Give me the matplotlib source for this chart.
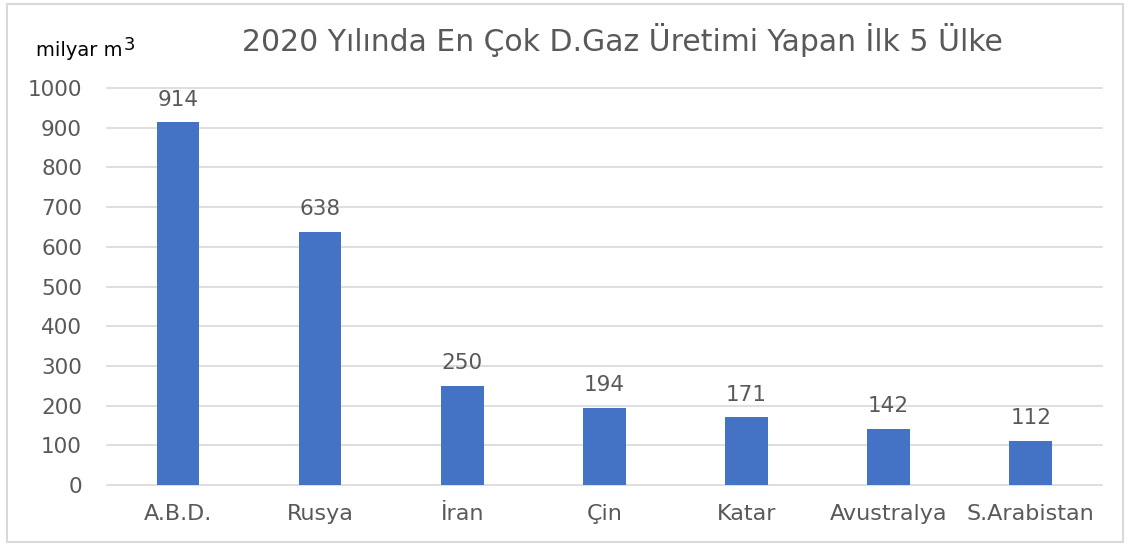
import matplotlib
matplotlib.use("Agg")
import matplotlib.pyplot as plt
from matplotlib.patches import Rectangle

categories = ["A.B.D.", "Rusya", "İran", "Çin", "Katar", "Avustralya", "S.Arabistan"]
values = [914, 638, 250, 194, 171, 142, 112]
yticks = [0, 100, 200, 300, 400, 500, 600, 700, 800, 900, 1000]
title = "2020 Yılında En Çok D.Gaz Üretimi Yapan İlk 5 Ülke"
unit_label = "milyar m"
unit_sup = "3"

plt.rcParams['font.family'] = ['DejaVu Sans']
txt = '#595959'

fig = plt.figure(figsize=(11.3, 5.46), dpi=100)
fig.patches.append(Rectangle((0.006, 0.008), 0.988, 0.984, transform=fig.transFigure,
                             fill=False, edgecolor='#d9d9d9', linewidth=1.5))
ax = fig.add_axes([0.0947, 0.1117, 0.8803, 0.7271])
x = range(len(categories))
bars = ax.bar(x, values, width=0.3, color='#4472c4', zorder=3)
for xi, v in zip(x, values):
    ax.annotate(str(v), (xi, v), xytext=(0, 9), textcoords='offset points',
                ha='center', va='bottom', fontsize=15.5, color=txt)
ax.set_xlim(-0.5, len(categories) - 0.5)
ax.set_ylim(0, 1000)
ax.set_yticks(yticks)
ax.set_yticklabels([str(t) for t in yticks], fontsize=15.5, color=txt)
ax.set_xticks(list(x))
ax.set_xticklabels(categories, fontsize=16, color=txt)
ax.tick_params(axis='both', length=0)
ax.tick_params(axis='y', pad=18)
ax.tick_params(axis='x', pad=14)
ax.grid(axis='y', color='#d9d9d9', linewidth=1.2, zorder=0)
for gl in ax.get_ygridlines():
    gl.set_clip_on(False)
for s in ax.spines.values():
    s.set_visible(False)
fig.text(0.5504, 0.927, title, ha='center', va='center', fontsize=21.5, color=txt)
t = fig.text(0.032, 0.908, unit_label, ha='left', va='center', fontsize=14, color='black')
fig.canvas.draw()
bb = t.get_window_extent()
fig.text(bb.x1 / fig.bbox.width + 0.001, 0.918, unit_sup, ha='left', va='center',
         fontsize=13, color='black')
fig.savefig("out.png", dpi=100)
